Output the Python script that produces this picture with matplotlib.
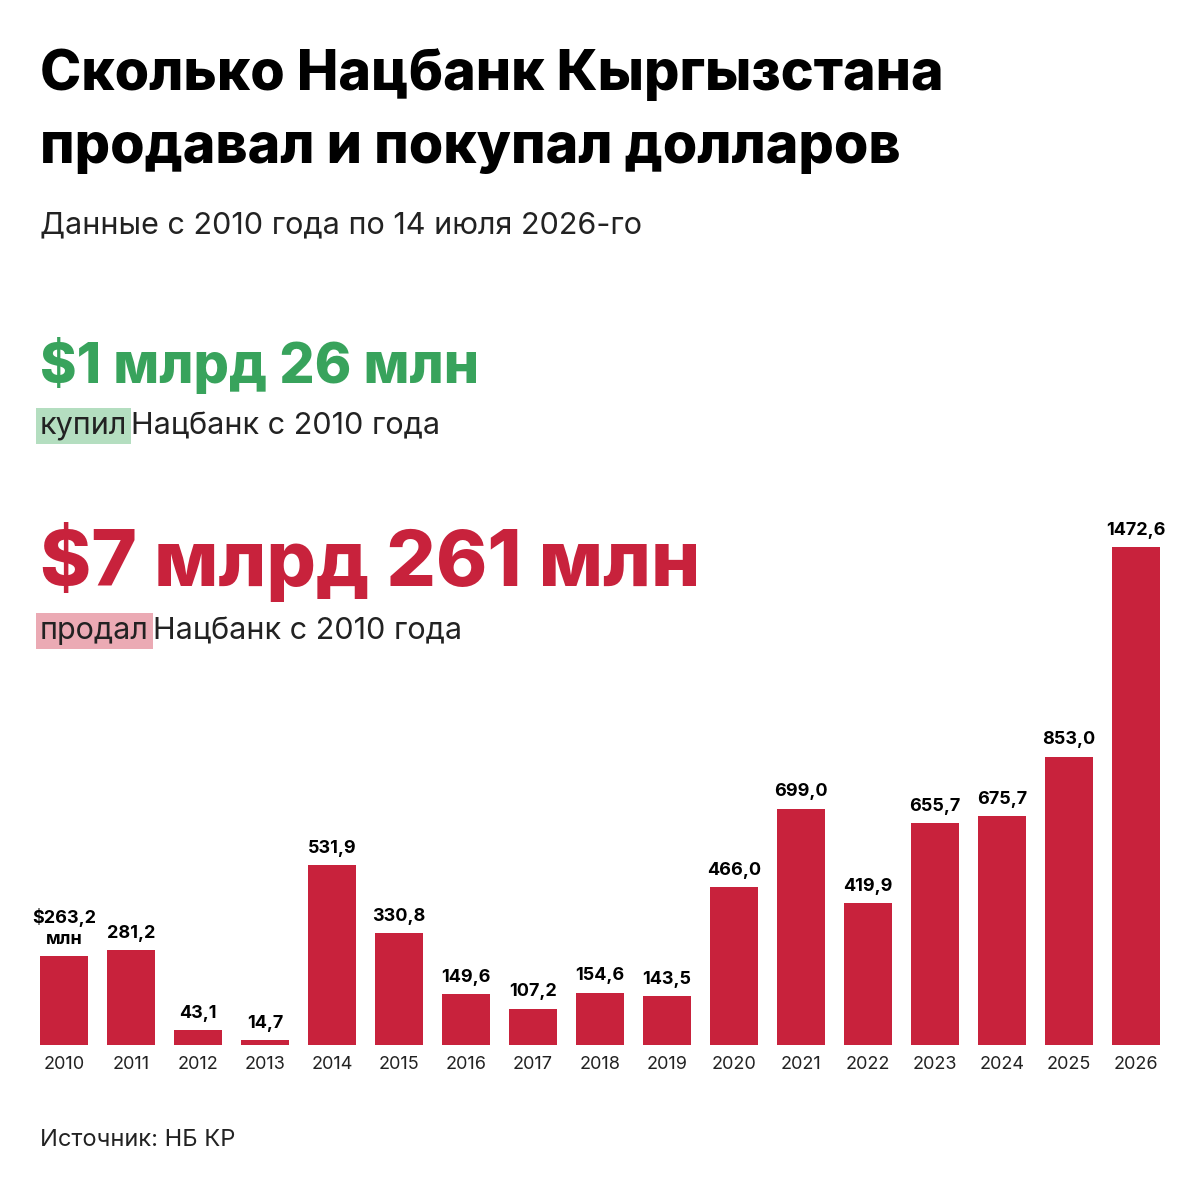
import matplotlib.pyplot as plt

years = [str(y) for y in range(2010, 2027)]
sold = [263.2, 281.2, 43.1, 14.7, 531.9, 330.8, 149.6, 107.2, 154.6, 143.5,
        466.0, 699.0, 419.9, 655.7, 675.7, 853.0, 1472.6]
labels = ["$263,2\nмлн"] + [f"{v:.1f}".replace(".", ",") for v in sold[1:]]

red = "#C8223C"
green = "#38A35C"
plt.rcParams['font.family'] = ['Inter', 'DejaVu Sans']

fig = plt.figure(figsize=(12, 12), dpi=100)
W = H = 1200.0


def fy(px):
    return 1 - px / H


fig.text(40 / W, fy(75), "Сколько Нацбанк Кыргызстана", fontsize=40,
         fontweight='heavy', va='center')
fig.text(40 / W, fy(148), "продавал и покупал долларов", fontsize=40,
         fontweight='heavy', va='center')
fig.text(40 / W, fy(225), "Данные с 2010 года по 14 июля 2026-го", fontsize=22,
         va='center', color='#222222')
fig.text(40 / W, fy(365), "$1 млрд 26 млн", fontsize=40, fontweight='heavy',
         color=green, va='center')
fig.text(40 / W, fy(562), "$7 млрд 261 млн", fontsize=56, fontweight='heavy',
         color=red, va='center')


def marked(y, word, bg, rest):
    t = fig.text(40 / W, fy(y), word, fontsize=22, va='center', color='#222222',
                 bbox=dict(boxstyle='square,pad=0.12', fc=bg, ec='none'))
    fig.canvas.draw()
    bb = t.get_window_extent()
    fig.text(bb.x1 / W + 4 / W, fy(y), rest, fontsize=22, va='center',
             color='#222222')


marked(426, "купил", "#B4DEC0", "Нацбанк с 2010 года")
marked(631, "продал", "#EBAAB4", "Нацбанк с 2010 года")

ax = fig.add_axes([30.5 / W, fy(1045), 1139 / W, 498 / H])
x = range(len(years))
rects = ax.bar(x, sold, width=0.72, color=red)
for r, lab in zip(rects, labels):
    ax.annotate(lab, xy=(r.get_x() + r.get_width() / 2, r.get_height()),
                xytext=(0, 6), textcoords="offset points", ha='center',
                va='bottom', fontsize=13, fontweight='bold', linespacing=1.3)
ax.set_xlim(-0.5, len(years) - 0.5)
ax.set_ylim(0, 1472.6)
ax.set_xticks(list(x))
ax.set_xticklabels(years, fontsize=13, color='#222222')
ax.tick_params(axis='x', length=0, pad=8)
ax.set_yticks([])
for s in ax.spines.values():
    s.set_visible(False)
ax.patch.set_alpha(0)

fig.text(40 / W, fy(1140), "Источник: НБ КР", fontsize=17, va='center',
         color='#222222')

fig.savefig("out.png", dpi=100)
